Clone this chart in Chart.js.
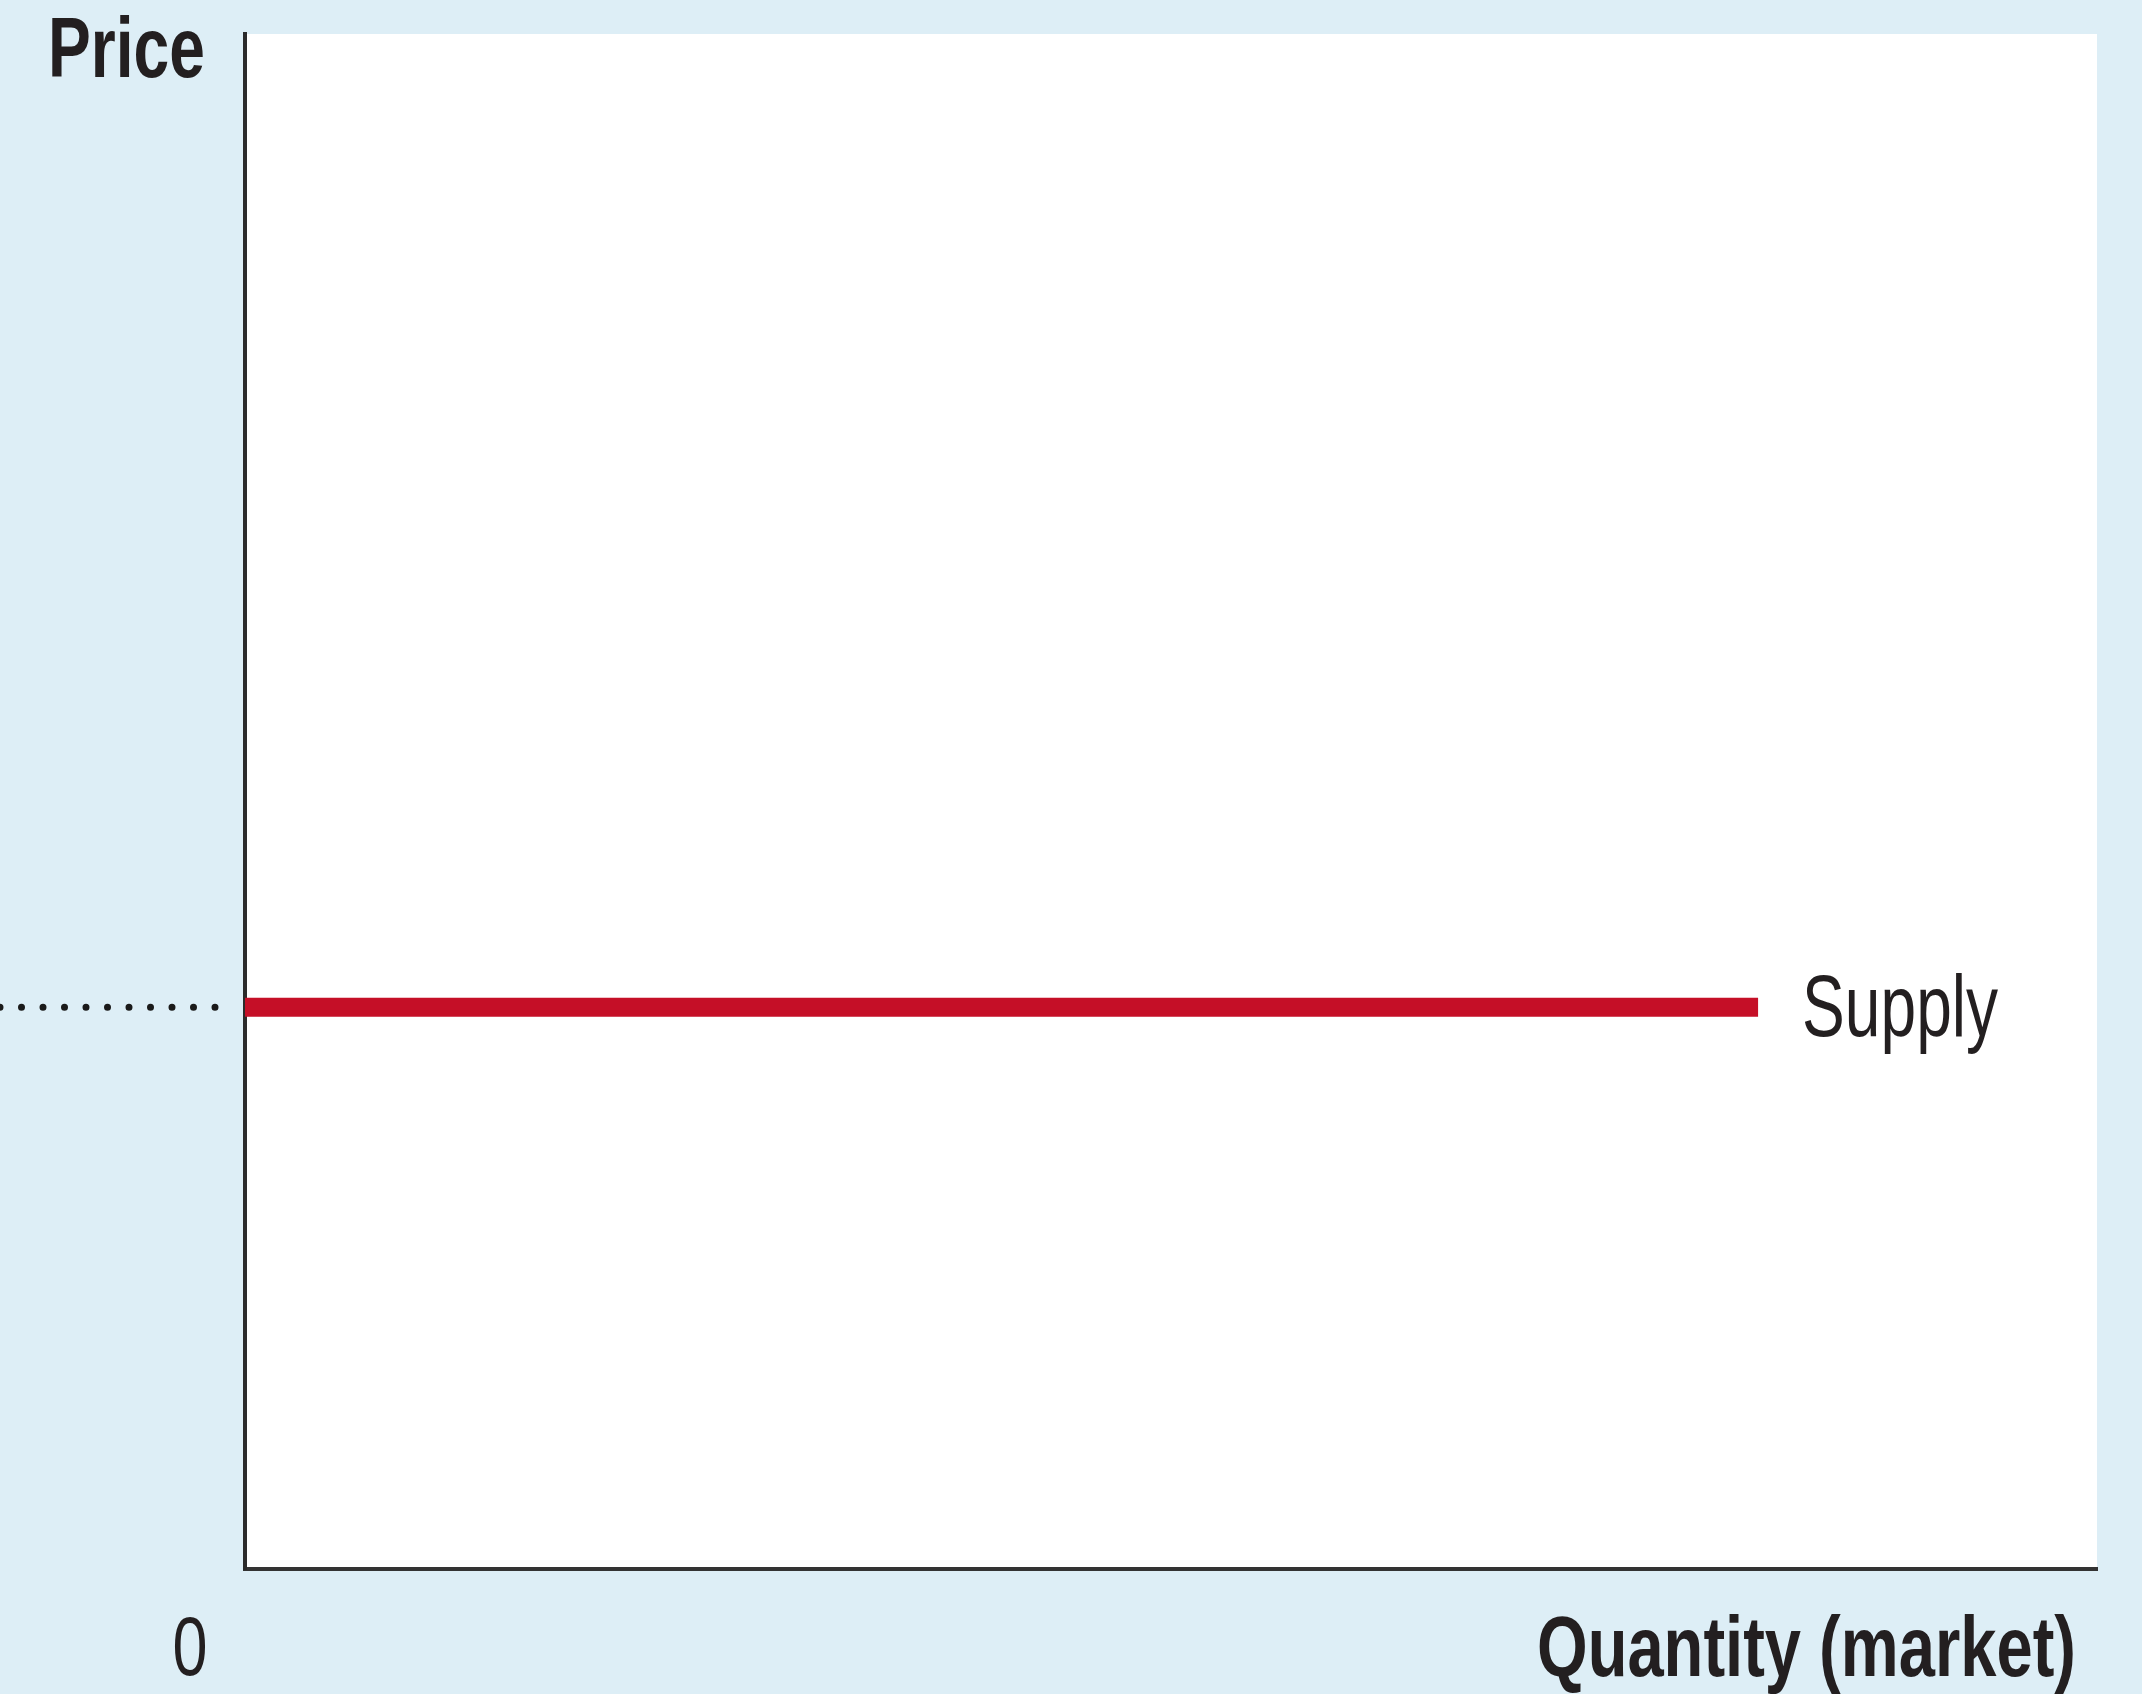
<!DOCTYPE html>
<html>
<head>
<meta charset="utf-8">
<script src="https://cdn.jsdelivr.net/npm/chart.js@4.4.1/dist/chart.umd.min.js"></script>
<style>
  html, body { margin: 0; padding: 0; background: #ddeef6; }
  canvas { display: block; }
</style>
</head>
<body>
<canvas id="supplyChart" width="2142" height="1694"></canvas>
<script>
// data (axes are unitless, 0..100)
const quantity = [0, 81.7];
const supplyPrice = [36.6, 36.6];
const seriesName = 'Supply';
const originLabel = '0';
const xTitle = 'Quantity (market)';
const yTitle = 'Price';

const FONT = '"Liberation Sans", Arial, sans-serif';
const INK = '#231f20';

// draw text squeezed sideways to look like a condensed face
function narrowText(ctx, text, x, y, width, align) {
    const w = ctx.measureText(text).width;
    const sx = width / w;
    let left = x;
    if (align === 'right') left = x - width;
    if (align === 'center') left = x - width / 2;
    ctx.save();
    ctx.textAlign = 'left';
    ctx.translate(left, y);
    ctx.scale(sx, 1);
    ctx.fillText(text, 0, 0);
    ctx.restore();
}

// light blue page, white plot area
const backdrop = {
    id: 'backdrop',
    beforeDraw(chart) {
        const { ctx, chartArea: a } = chart;
        ctx.save();
        ctx.fillStyle = '#ddeef6';
        ctx.fillRect(0, 0, chart.width, chart.height);
        ctx.fillStyle = '#ffffff';
        ctx.fillRect(a.left, a.top, a.right - a.left, a.bottom - a.top);
        ctx.restore();
    }
};

// texts and the dotted price marker left of the axis
const labels = {
    id: 'labels',
    afterDraw(chart) {
        const { ctx, chartArea: a } = chart;
        const xs = chart.scales.x, ys = chart.scales.y;
        const py = ys.getPixelForValue(supplyPrice[0]);
        const endX = xs.getPixelForValue(quantity[quantity.length - 1]);

        ctx.save();
        // dotted line
        ctx.strokeStyle = '#1a1a1a';
        ctx.lineWidth = 7;
        ctx.lineCap = 'round';
        ctx.setLineDash([0, 21.5]);
        ctx.beginPath();
        ctx.moveTo(a.left - 30, py);
        ctx.lineTo(-5, py);
        ctx.stroke();
        ctx.setLineDash([]);

        ctx.fillStyle = INK;
        ctx.textBaseline = 'alphabetic';

        ctx.font = 'bold 86px ' + FONT;
        narrowText(ctx, yTitle, 48, 77, 157, 'left');

        ctx.font = '88px ' + FONT;
        narrowText(ctx, seriesName, endX + 44, py + 29, 196, 'left');

        ctx.font = '84px ' + FONT;
        narrowText(ctx, originLabel, 190, 1675, 35, 'center');

        ctx.font = 'bold 86px ' + FONT;
        narrowText(ctx, xTitle, 2076, 1676, 539, 'right');
        ctx.restore();
    }
};

document.addEventListener('DOMContentLoaded', () => {
    const ctx = document.getElementById('supplyChart').getContext('2d');
    new Chart(ctx, {
        type: 'line',
        data: {
            datasets: [{
                label: seriesName,
                data: quantity.map((q, i) => ({ x: q, y: supplyPrice[i] })),
                borderColor: '#c50f27',
                borderWidth: 19,
                borderCapStyle: 'butt',
                pointRadius: 0,
                fill: false
            }]
        },
        options: {
            responsive: false,
            animation: false,
            layout: {
                padding: { left: 245, top: 34, right: 45, bottom: 125 }
            },
            scales: {
                x: {
                    type: 'linear',
                    min: 0,
                    max: 100,
                    ticks: { display: false },
                    grid: { display: false, drawTicks: false },
                    border: { color: '#333333', width: 4 }
                },
                y: {
                    type: 'linear',
                    min: 0,
                    max: 100,
                    ticks: { display: false },
                    grid: { display: false, drawTicks: false },
                    border: { color: '#2b2b2b', width: 4 }
                }
            },
            plugins: {
                legend: { display: false },
                tooltip: { enabled: false }
            }
        },
        plugins: [backdrop, labels]
    });
});
</script>
</body>
</html>
